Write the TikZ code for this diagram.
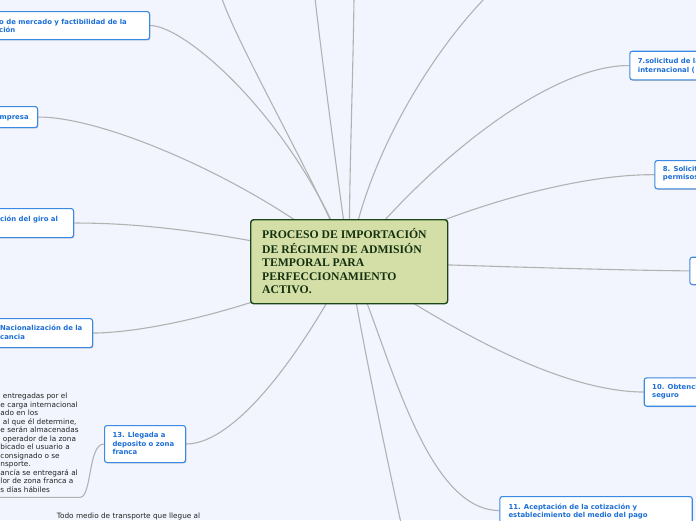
\documentclass[tikz,border=0pt]{standalone}
\usepackage{fontspec}
\setmainfont{DejaVu Sans}
\newfontfamily\rootfont{Liberation Serif}
\usetikzlibrary{shadows}
\definecolor{bgc}{RGB}{242,245,254}
\definecolor{boxblue}{RGB}{58,137,226}
\definecolor{txtblue}{RGB}{28,110,214}
\definecolor{linec}{RGB}{178,178,178}
\definecolor{rootfill}{RGB}{212,223,168}
\definecolor{rootdraw}{RGB}{26,70,26}
\definecolor{roottxt}{RGB}{20,48,14}
\definecolor{notetxt}{RGB}{35,35,35}
\pgfdeclarelayer{bglayer}
\pgfdeclarelayer{linelayer}
\pgfsetlayers{bglayer,linelayer,main}
\tikzset{
  box/.style={draw=boxblue, line width=1.1pt, fill=white, rounded corners=2.5pt,
    drop shadow={shadow xshift=0.8pt, shadow yshift=-0.9pt, opacity=0.22, fill=black},
    inner sep=0pt, anchor=north west},
  boxtext/.style={anchor=north west, inner sep=0pt, align=left, text=txtblue,
    font=\fontsize{6.9}{8.4}\selectfont\bfseries},
  notetext/.style={anchor=north west, inner sep=0pt, align=left, text=notetxt,
    font=\fontsize{7.3}{8.5}\selectfont},
  rootbox/.style={draw=rootdraw, line width=1.4pt, fill=rootfill, rounded corners=3pt,
    inner sep=0pt, anchor=north west},
  roottext/.style={anchor=north west, inner sep=0pt, align=left, text=roottxt,
    font=\rootfont\bfseries\fontsize{11.7}{13.3}\selectfont},
  conn/.style={draw=linec, line width=1.1pt},
}
\begin{document}
\begin{tikzpicture}[x=1pt,y=-1pt]
\useasboundingbox (0,0) rectangle (696,520);
\begin{pgfonlayer}{bglayer}
\fill[bgc] (0,0) rectangle (696,520);
\end{pgfonlayer}
% root
\node[rootbox, minimum width=197pt, minimum height=84pt] (root) at (250,219) {};
\node[roottext] (roottxt) at (262,228.4) {\strut PROCESO DE IMPORTACIÓN\\DE RÉGIMEN DE ADMISIÓN\\TEMPORAL PARA\\PERFECCIONAMIENTO\\ACTIVO.};
% boxes
\node[box, minimum width=159pt, minimum height=28pt] (b1) at (-10,11) {};
\node[box, minimum width=47pt, minimum height=21pt] (b2) at (-10,106) {};
\node[box, minimum width=83pt, minimum height=29pt] (b3) at (-10,208) {};
\node[box, minimum width=102pt, minimum height=29pt] (b4) at (-10,318) {};
\node[box, minimum width=81pt, minimum height=37pt] (b13) at (104,425) {};
\node[box, minimum width=100pt, minimum height=28.6pt] (b7) at (629.3,50.7) {};
\node[box, minimum width=80pt, minimum height=28.3pt] (b8) at (654.3,160) {};
\node[box, minimum width=50pt, minimum height=27.3pt] (b9) at (689.3,256.7) {};
\node[box, minimum width=80pt, minimum height=28.4pt] (b10) at (643.7,377.3) {};
\node[box, minimum width=192.4pt, minimum height=28pt] (b11) at (499.3,496) {};
% box texts
\node[boxtext] (tb1) at (-1,18.1) {\strut o de mercado y factibilidad de la\\ción};
\node[boxtext] (tb2) at (-0.5,113.1) {\strut mpresa};
\node[boxtext] (tb3) at (0,215.7) {\strut ción del giro al};
\node[boxtext] (tb4) at (0,324.7) {\strut Nacionalización de la\\cancia};
\node[boxtext] (tb13) at (112.3,431.6) {\strut 13. Llegada a\\deposito o zona\\franca};
\node[boxtext] (tb7) at (637.7,57.7) {\strut 7.solicitud de la\\internacional (};
\node[boxtext] (tb8) at (662.7,165.1) {\strut 8. Solicitud\\permisos};
\node[boxtext] (tb10) at (652,383.4) {\strut 10. Obtención\\seguro};
\node[boxtext] (tb11) at (508.3,503.1) {\strut 11. Aceptación de la cotización y\\establecimiento del medio del pago};
% notes
\node[notetext] (note) at (0.3,392.4) {\strut\hspace*{2.4pt}entregadas por el\\e carga internacional\\ado en los\\\hspace*{2.4pt}al que él determine,\\e serán almacenadas\\\hspace*{2.4pt}operador de la zona\\bicado el usuario a\\consignado o se\\nsporte.\\ancía se entregará al\\lor de zona franca a\\s días hábiles};
\node[notetext] (todo) at (56.7,512.4) {\strut Todo medio de transporte que llegue al};
% free ends
\coordinate (n1) at (-5,497.3);
\coordinate (n2) at (80,497.3);
\coordinate (t1) at (221.7,-2);
\coordinate (t2) at (315,-2);
\coordinate (t3) at (354,-2);
\coordinate (t4) at (485,-2);
\coordinate (t5) at (402.5,530);
\begin{pgfonlayer}{linelayer}
\draw[conn] (b1.east) .. controls (185,25) and (295,120) .. (root.center);
\draw[conn] (b2.east) .. controls (110,116.5) and (270,190) .. (root.center);
\draw[conn] (b3.east) .. controls (160,222.5) and (260,240) .. (root.center);
\draw[conn] (b4.east) .. controls (160,332.5) and (280,300) .. (root.center);
\draw[conn] (b13.east) .. controls (245,443.5) and (320,320) .. (root.center);
\draw[conn] (n1) -- (n2) .. controls (92,497.3) and (88,443.5) .. (b13.west);
\draw[conn] (t1) .. controls (240,50) and (310,170) .. (root.center);
\draw[conn] (t2) .. controls (322,60) and (338,180) .. (root.center);
\draw[conn] (t3) .. controls (353,80) and (349,180) .. (root.center);
\draw[conn] (t4) .. controls (430,55) and (365,160) .. (root.center);
\draw[conn] (b7.west) .. controls (550,65) and (430,160) .. (root.center);
\draw[conn] (b8.west) .. controls (580,174) and (460,205) .. (root.center);
\draw[conn] (b9.west) .. controls (600,270) and (450,265) .. (root.center);
\draw[conn] (b10.west) .. controls (560,391.5) and (450,330) .. (root.center);
\draw[conn] (b11.west) .. controls (420,510) and (385,330) .. (root.center);
\draw[conn] (t5) .. controls (385,450) and (360,330) .. (root.center);
\end{pgfonlayer}
\end{tikzpicture}
\end{document}
